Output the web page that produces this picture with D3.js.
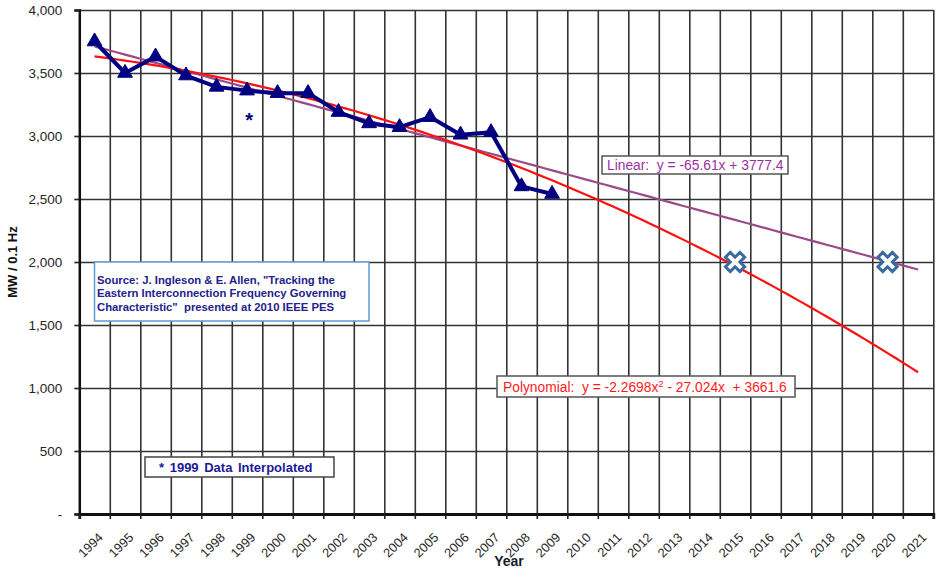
<!DOCTYPE html>
<html>
<head>
<meta charset="utf-8">
<style>
  body { margin: 0; background: #fff; }
  svg { display: block; font-family: "Liberation Sans", Arial, sans-serif; }
  svg text { white-space: pre; }
  .grid line { stroke: #333; stroke-width: 1.6px; }
  .grid path { display: none; }
  .axis text { fill: #262626; }
</style>
</head>
<body>
<svg width="936" height="569"></svg>
<script src="https://cdn.jsdelivr.net/npm/d3@7/dist/d3.min.js"></script>
<script>

const years = [1994, 1995, 1996, 1997, 1998, 1999, 2000, 2001, 2002, 2003, 2004, 2005, 2006, 2007,
  2008, 2009, 2010, 2011, 2012, 2013, 2014, 2015, 2016, 2017, 2018, 2019, 2020, 2021];

const measuredYears = [1994, 1995, 1996, 1997, 1998, 1999, 2000, 2001, 2002, 2003, 2004, 2005,
  2006, 2007, 2008, 2009];
const measured = [3750, 3500, 3630, 3480, 3390, 3360, 3340, 3340, 3190, 3100, 3070, 3150,
  3010, 3030, 2600, 2540];

// trendline coefficients as printed on the chart (x = 1 for 1994)
const linearCoef = [-65.61, 3777.4];
const polyCoef = [-2.2698, -27.024, 3661.6];

const targetYears = [2015, 2020];
const targetValues = [2000, 2000];

const interpolatedYear = 1999;
const interpolatedMark = 3150;

const yTicks = [0, 500, 1000, 1500, 2000, 2500, 3000, 3500, 4000];

var svg = d3.select("svg"),
    margin = {top: 10, right: 2.7, bottom: 55, left: 79.3},
    width = +svg.attr("width") - margin.left - margin.right,
    height = +svg.attr("height") - margin.top - margin.bottom;

var g = svg.append("g")
    .attr("transform", "translate(" + margin.left + "," + margin.top + ")");

// x works on the category index (1..28), so the trend equations plug straight in
var x = d3.scaleLinear()
    .domain([0.5, years.length + 0.5])
    .range([0, width]);
var idx = function(year) { return year - years[0] + 1; };

var y = d3.scaleLinear()
    .domain([0, 4000])
    .range([height, 0]);

var boundaries = d3.range(0.5, years.length + 1, 1);

// grid
g.append("g")
    .attr("class", "grid")
    .call(d3.axisLeft(y).tickValues(yTicks).tickSize(-width).tickFormat(""));
g.append("g")
    .attr("class", "grid")
    .call(d3.axisBottom(x).tickValues(boundaries).tickSize(height).tickFormat(""));

// y axis
var yAxis = g.append("g")
    .attr("class", "axis")
    .call(d3.axisLeft(y).tickValues(yTicks).tickSize(5).tickPadding(12)
      .tickFormat(function(d) { return d === 0 ? "-" : d3.format(",")(d); }));
yAxis.select(".domain").attr("stroke", "#111").attr("stroke-width", 2.5);
yAxis.selectAll(".tick line").attr("stroke", "#222").attr("stroke-width", 1.6);
yAxis.selectAll("text").style("font-size", "13.5px");

// x axis: tick marks on category boundaries, labels in the middle
var xAxis = g.append("g")
    .attr("class", "axis")
    .attr("transform", "translate(0," + height + ")")
    .call(d3.axisBottom(x).tickValues(boundaries).tickSize(5).tickFormat(""));
xAxis.select(".domain").attr("stroke", "#111").attr("stroke-width", 2.8);
xAxis.selectAll(".tick line").attr("stroke", "#222").attr("stroke-width", 1.6);

g.append("g")
    .attr("class", "axis")
  .selectAll("text")
  .data(years)
  .enter().append("text")
    .attr("transform", function(d) {
      return "translate(" + (x(idx(d)) + 6) + "," + (height + 21) + ") rotate(-45)";
    })
    .attr("text-anchor", "end")
    .attr("dy", "0.35em")
    .style("font-size", "12.8px")
    .text(function(d) { return d; });

// axis titles
svg.append("text")
    .attr("transform", "translate(17," + (margin.top + height / 2) + ") rotate(-90)")
    .attr("text-anchor", "middle")
    .style("font-size", "13px")
    .style("font-weight", "bold")
    .attr("fill", "#111")
    .text("MW / 0.1 Hz");

svg.append("text")
    .attr("x", 509)
    .attr("y", 566)
    .attr("text-anchor", "middle")
    .style("font-size", "14px")
    .style("font-weight", "bold")
    .attr("fill", "#1a1a2e")
    .text("Year");

// trendlines
var trendX = d3.range(1, years.length + 0.001, 0.25);
var trendLine = d3.line()
    .x(function(d) { return x(d[0]); })
    .y(function(d) { return y(d[1]); });

g.append("path")
    .datum(trendX.map(function(t) { return [t, linearCoef[0] * t + linearCoef[1]]; }))
    .attr("fill", "none")
    .attr("stroke", "#9a4a86")
    .attr("stroke-width", 2.2)
    .attr("d", trendLine);

g.append("path")
    .datum(trendX.map(function(t) { return [t, polyCoef[0] * t * t + polyCoef[1] * t + polyCoef[2]]; }))
    .attr("fill", "none")
    .attr("stroke", "#ff1010")
    .attr("stroke-width", 2.2)
    .attr("d", trendLine);

// measured series
var series = measuredYears.map(function(yr, i) { return {year: yr, value: measured[i]}; });

g.append("path")
    .datum(series)
    .attr("fill", "none")
    .attr("stroke", "#000080")
    .attr("stroke-width", 4)
    .attr("stroke-linejoin", "round")
    .attr("d", d3.line()
      .x(function(d) { return x(idx(d.year)); })
      .y(function(d) { return y(d.value); }));

g.selectAll(".tri")
    .data(series)
    .enter().append("path")
    .attr("class", "tri")
    .attr("transform", function(d) { return "translate(" + x(idx(d.year)) + "," + y(d.value) + ")"; })
    .attr("d", d3.symbol().type(d3.symbolTriangle).size(95))
    .attr("fill", "#000080")
    .attr("stroke", "#000080")
    .attr("stroke-width", 1);

// target markers
g.selectAll(".target")
    .data(targetYears)
    .enter().append("path")
    .attr("class", "target")
    .attr("transform", function(d, i) {
      return "translate(" + x(idx(d)) + "," + y(targetValues[i]) + ") rotate(45)";
    })
    .attr("d", d3.symbol().type(d3.symbolCross).size(230))
    .attr("fill", "#fff")
    .attr("stroke", "#3a6a9e")
    .attr("stroke-width", 3);

// interpolated note
g.append("text")
    .attr("x", x(idx(interpolatedYear)) + 2)
    .attr("y", y(interpolatedMark))
    .attr("dy", "0.5em")
    .attr("text-anchor", "middle")
    .style("font-size", "20px")
    .style("font-weight", "bold")
    .attr("fill", "#000080")
    .text("*");

// text boxes
function box(x0, y0, w, h, stroke, sw) {
  svg.append("rect")
      .attr("x", x0).attr("y", y0)
      .attr("width", w).attr("height", h)
      .attr("fill", "#fff")
      .attr("stroke", stroke)
      .attr("stroke-width", sw);
}

box(602, 156, 186, 18, "#555", 1.5);
svg.append("text")
    .attr("x", 607).attr("y", 170)
    .style("font-size", "13.8px")
    .attr("fill", "#9a2fa0")
    .text("Linear:  y = -65.61x + 3777.4");

box(497, 376, 298, 21, "#555", 1.5);
var poly = svg.append("text")
    .attr("x", 503).attr("y", 392)
    .style("font-size", "13.8px")
    .attr("fill", "#ff1a1a");
poly.append("tspan").text("Polynomial:  y = -2.2698x");
poly.append("tspan").attr("dy", -5).style("font-size", "9.5px").text("2");
poly.append("tspan").attr("dy", 5).text(" - 27.024x  + 3661.6");

box(94.5, 262, 274.5, 59, "#5b9bd5", 1.5);
var src = svg.append("text")
    .style("font-size", "11.3px")
    .style("font-weight", "bold")
    .attr("fill", "#22228a");
["Source: J. Ingleson & E. Allen, \"Tracking the",
 "Eastern Interconnection Frequency Governing",
 "Characteristic\"  presented at 2010 IEEE PES"].forEach(function(line, i) {
  src.append("tspan").attr("x", 97).attr("y", 283.5 + i * 13.5).text(line);
});

box(145, 457, 189, 20, "#444", 1.5);
svg.append("text")
    .attr("x", 159).attr("y", 472)
    .style("font-size", "13px")
    .style("font-weight", "bold")
    .style("word-spacing", "2px")
    .attr("fill", "#1a1a99")
    .text("* 1999 Data Interpolated");

</script>
</body>
</html>
